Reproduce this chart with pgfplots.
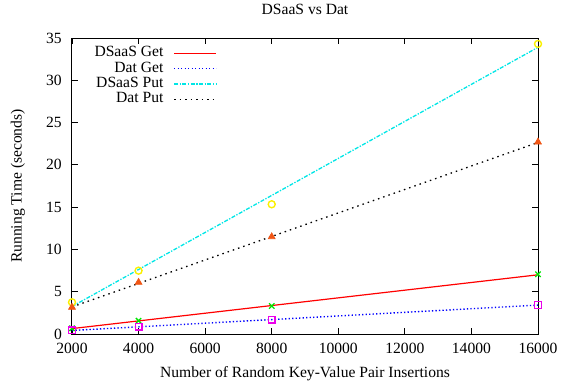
\documentclass[border=0pt]{standalone}
\usepackage{pgfplots}
\pgfplotsset{compat=1.18}
\usepackage{fontspec}
\setmainfont{Liberation Serif}
\definecolor{gpred}{RGB}{255,0,0}
\definecolor{gpblue}{RGB}{0,0,255}
\definecolor{gpcyan}{RGB}{0,230,230}
\definecolor{gpgreen}{RGB}{0,230,0}
\definecolor{gpmag}{RGB}{235,0,235}
\definecolor{gpyellow}{RGB}{250,240,0}
\definecolor{gporange}{RGB}{240,85,20}
\begin{document}
\begin{tikzpicture}[font=\fontsize{15.6bp}{18bp}\selectfont]
\begin{axis}[
  at={(0,0)}, anchor=south west,
  scale only axis, width=466bp, height=296bp,
  xmin=2000, xmax=16000, ymin=0, ymax=35,
  xtick={2000,4000,...,16000}, ytick={0,5,...,35},
  tick align=inside, major tick length=6bp,
  tick style={black, line width=0.8bp},
  axis line style={line width=1bp},
  scaled x ticks=false,
  /pgf/number format/1000 sep={},
  /pgf/number format/assume math mode=true,
  xticklabel style={anchor=north, inner sep=0pt, yshift=-9bp},
  yticklabel style={anchor=east, inner sep=0pt, xshift=-10bp},
  title={DSaaS vs Dat},
  title style={at={(axis description cs:0.5,1.0777)}, anchor=center},
  xlabel={Number of Random Key-Value Pair Insertions},
  xlabel style={at={(axis description cs:0.5,-0.1351)}, anchor=center},
  ylabel={Running Time (seconds)},
  ylabel style={at={(axis description cs:-0.1159,0.5)}, anchor=center},
  legend image code/.code={\draw[#1] (0bp,0bp) -- (42bp,0bp);},
  legend style={at={(axis description cs:0.3112,0.971)}, anchor=north east,
    draw=none, fill=none, inner sep=0pt,
    nodes={inner sep=0pt, text height=10bp, text depth=3bp},
    column sep=10bp, row sep=2.3bp},
  legend cell align=right,
  legend plot pos=right,
]
% fitted lines
\addplot[gpred, line width=1.2bp] coordinates {(2000,0.64) (16000,7.0)};
\addlegendentry{DSaaS Get}
\addplot[gpblue, line width=1.4bp, dash pattern=on 1.3bp off 2.2bp] coordinates {(2000,0.42) (16000,3.42)};
\addlegendentry{Dat Get}
\addplot[gpcyan, line width=1.3bp, dash pattern=on 4bp off 1.5bp on 1.3bp off 1.5bp] coordinates {(2000,3.25) (16000,33.9)};
\addlegendentry{DSaaS Put}
\addplot[black, line width=1.3bp, dash pattern=on 1.5bp off 4bp] coordinates {(2000,3.2) (16000,22.65)};
\addlegendentry{Dat Put}
% measured points
\addplot[forget plot, only marks, gpgreen, mark=x, mark size=3.8bp, line width=1.3bp] coordinates {(2000,0.67) (4000,1.57) (8000,3.31) (16000,7.06)};
\addplot[forget plot, only marks, gpmag, mark=square, mark size=3.4bp, line width=1.3bp] coordinates {(2000,0.43) (4000,0.87) (8000,1.69) (16000,3.43)};
\addplot[forget plot, only marks, gpyellow, mark=o, mark size=3.5bp, line width=1.4bp] coordinates {(2000,3.75) (4000,7.49) (8000,15.34) (16000,34.3)};
\addplot[forget plot, only marks, gporange, mark=triangle*, mark size=4bp, line width=0.6bp] coordinates {(2000,3.16) (4000,6.11) (8000,11.5) (16000,22.7)};
\end{axis}
\pgfresetboundingbox
\path[use as bounding box] (-72bp,-49bp) rectangle (492bp,334bp);
\end{tikzpicture}
\end{document}
